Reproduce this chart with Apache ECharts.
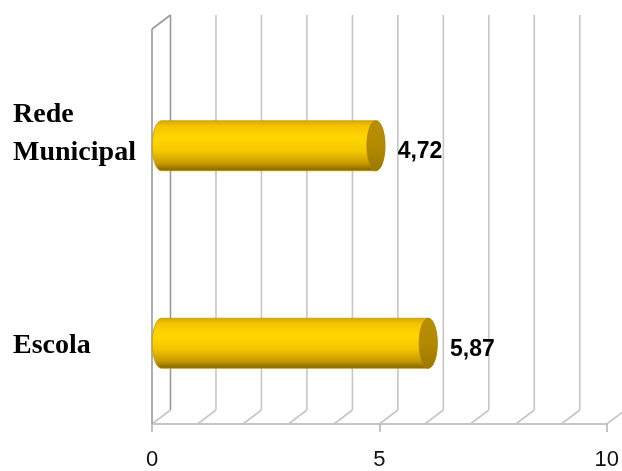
<!DOCTYPE html>
<html>
<head>
<meta charset="utf-8">
<script src="https://cdn.jsdelivr.net/npm/echarts@6/dist/echarts.min.js"></script>
<style>
  html, body { margin: 0; padding: 0; background: #ffffff; }
  #chart { width: 622px; height: 471px; }
</style>
</head>
<body>
<div id="chart"></div>
<script>
// Categories, bottom to top
var categories = ['Escola', 'Rede Municipal'];
// Average score per category
var scores = [5.87, 4.72];
// Gridline positions along the value axis
var gridValues = [0, 1, 2, 3, 4, 5, 6, 7, 8, 9, 10];
// Labelled ticks on the value axis
var tickLabels = [0, 5, 10];

// Depth of the 3D box (pixels): back wall offset
var DEPTH_X = 18.5, DEPTH_Y = 14;
// Cylinder geometry
var BAR_H = 50, CAP_RX = 9, BAR_SHIFT_Y = 18;

var chart = echarts.init(document.getElementById('chart'), null, { renderer: 'canvas' });

function fmt(v) { return v.toFixed(2).replace('.', ','); }

// Back wall gridlines and floor diagonals
function renderGrid(params, api) {
  var v = api.value(0);
  var cs = params.coordSys;
  var x = api.coord([v, 0])[0];
  var top = cs.y, bottom = cs.y + cs.height;
  var light = { stroke: '#c6c6c6', lineWidth: 1.6 };
  var dark = { stroke: '#9a9a9a', lineWidth: 1.6 };
  var children = [
    { type: 'line', shape: { x1: x + DEPTH_X, y1: top - DEPTH_Y, x2: x + DEPTH_X, y2: bottom - DEPTH_Y }, style: v === 0 ? dark : light },
    { type: 'line', shape: { x1: x, y1: bottom, x2: x + DEPTH_X, y2: bottom - DEPTH_Y }, style: light }
  ];
  if (v === 0) {
    children.push({ type: 'line', shape: { x1: x, y1: top, x2: x + DEPTH_X, y2: top - DEPTH_Y }, style: dark });
    children.push({ type: 'line', shape: { x1: x, y1: top, x2: x, y2: bottom }, style: dark });
  }
  return { type: 'group', children: children };
}

// Gold cylinders with value labels
function renderBar(params, api) {
  var val = api.value(0);
  var cat = api.value(1);
  var p0 = api.coord([0, cat]);
  var p1 = api.coord([val, cat]);
  var cx0 = p0[0] + DEPTH_X / 2;
  var cx1 = p1[0] + DEPTH_X / 2;
  var cy = p0[1] + BAR_SHIFT_Y;
  var ry = BAR_H / 2;
  var t = cy - ry, b = cy + ry;
  var body = 'M ' + cx0 + ' ' + t +
    ' A ' + CAP_RX + ' ' + ry + ' 0 0 0 ' + cx0 + ' ' + b +
    ' L ' + cx1 + ' ' + b +
    ' A ' + CAP_RX + ' ' + ry + ' 0 0 0 ' + cx1 + ' ' + t + ' Z';
  return {
    type: 'group',
    children: [
      {
        type: 'path',
        shape: { pathData: body },
        style: {
          fill: {
            type: 'linear', x: 0, y: 0, x2: 0, y2: 1,
            colorStops: [
              { offset: 0, color: '#d9a800' },
              { offset: 0.12, color: '#f4c500' },
              { offset: 0.35, color: '#ffd600' },
              { offset: 0.6, color: '#f6c700' },
              { offset: 0.85, color: '#c79a00' },
              { offset: 1, color: '#7d6000' }
            ]
          },
          stroke: '#c79a00', lineWidth: 0.8
        }
      },
      {
        type: 'ellipse',
        shape: { cx: cx1, cy: cy, rx: CAP_RX, ry: ry },
        style: {
          fill: {
            type: 'linear', x: 0, y: 0, x2: 0, y2: 1,
            colorStops: [
              { offset: 0, color: '#b88f00' },
              { offset: 0.5, color: '#b38a00' },
              { offset: 1, color: '#9a7700' }
            ]
          },
          stroke: '#a98300', lineWidth: 0.8
        }
      },
      {
        type: 'text',
        style: {
          x: p1[0] + 31, y: cy + 6,
          text: fmt(val),
          fill: '#000000',
          font: 'bold 23px "Liberation Sans", Arial, sans-serif',
          verticalAlign: 'middle', align: 'left'
        }
      }
    ]
  };
}

var catFont = { fontFamily: '"Liberation Serif", "Times New Roman", serif', fontWeight: 'bold', fontSize: 28, color: '#000', lineHeight: 38 };

chart.setOption({
  backgroundColor: '#ffffff',
  animation: false,
  grid: { left: 152, right: 13, top: 29, bottom: 45 },
  xAxis: {
    type: 'value', min: 0, max: 10, interval: 5,
    axisLine: { show: true, lineStyle: { color: '#b4b4b4', width: 1.6 } },
    axisTick: { show: true, length: 8, lineStyle: { color: '#b4b4b4', width: 1.6 } },
    splitLine: { show: false },
    axisLabel: {
      margin: 25,
      color: '#111111',
      fontSize: 22,
      fontFamily: '"Liberation Sans", Arial, sans-serif',
      formatter: function (v) { return tickLabels.indexOf(v) >= 0 ? String(v) : ''; }
    }
  },
  yAxis: {
    type: 'category', data: categories,
    axisLine: { show: false },
    axisTick: { show: false },
    axisLabel: {
      align: 'left', margin: 139,
      formatter: function (v) {
        return v.indexOf(' ') >= 0 ? '{a|' + v.replace(' ', '\n') + '}' : '{b|' + v + '}';
      },
      rich: {
        a: Object.assign({}, catFont, { padding: [12, 0, 0, 0] }),
        b: Object.assign({}, catFont, { padding: [42, 0, 0, 0] })
      }
    }
  },
  series: [
    {
      type: 'custom', z: 1, silent: true,
      renderItem: renderGrid,
      data: gridValues.map(function (v) { return [v]; })
    },
    {
      type: 'custom', z: 2, silent: true,
      renderItem: renderBar,
      encode: { x: 0, y: 1 },
      data: scores.map(function (s, i) { return [s, i]; })
    }
  ]
});
</script>
</body>
</html>
